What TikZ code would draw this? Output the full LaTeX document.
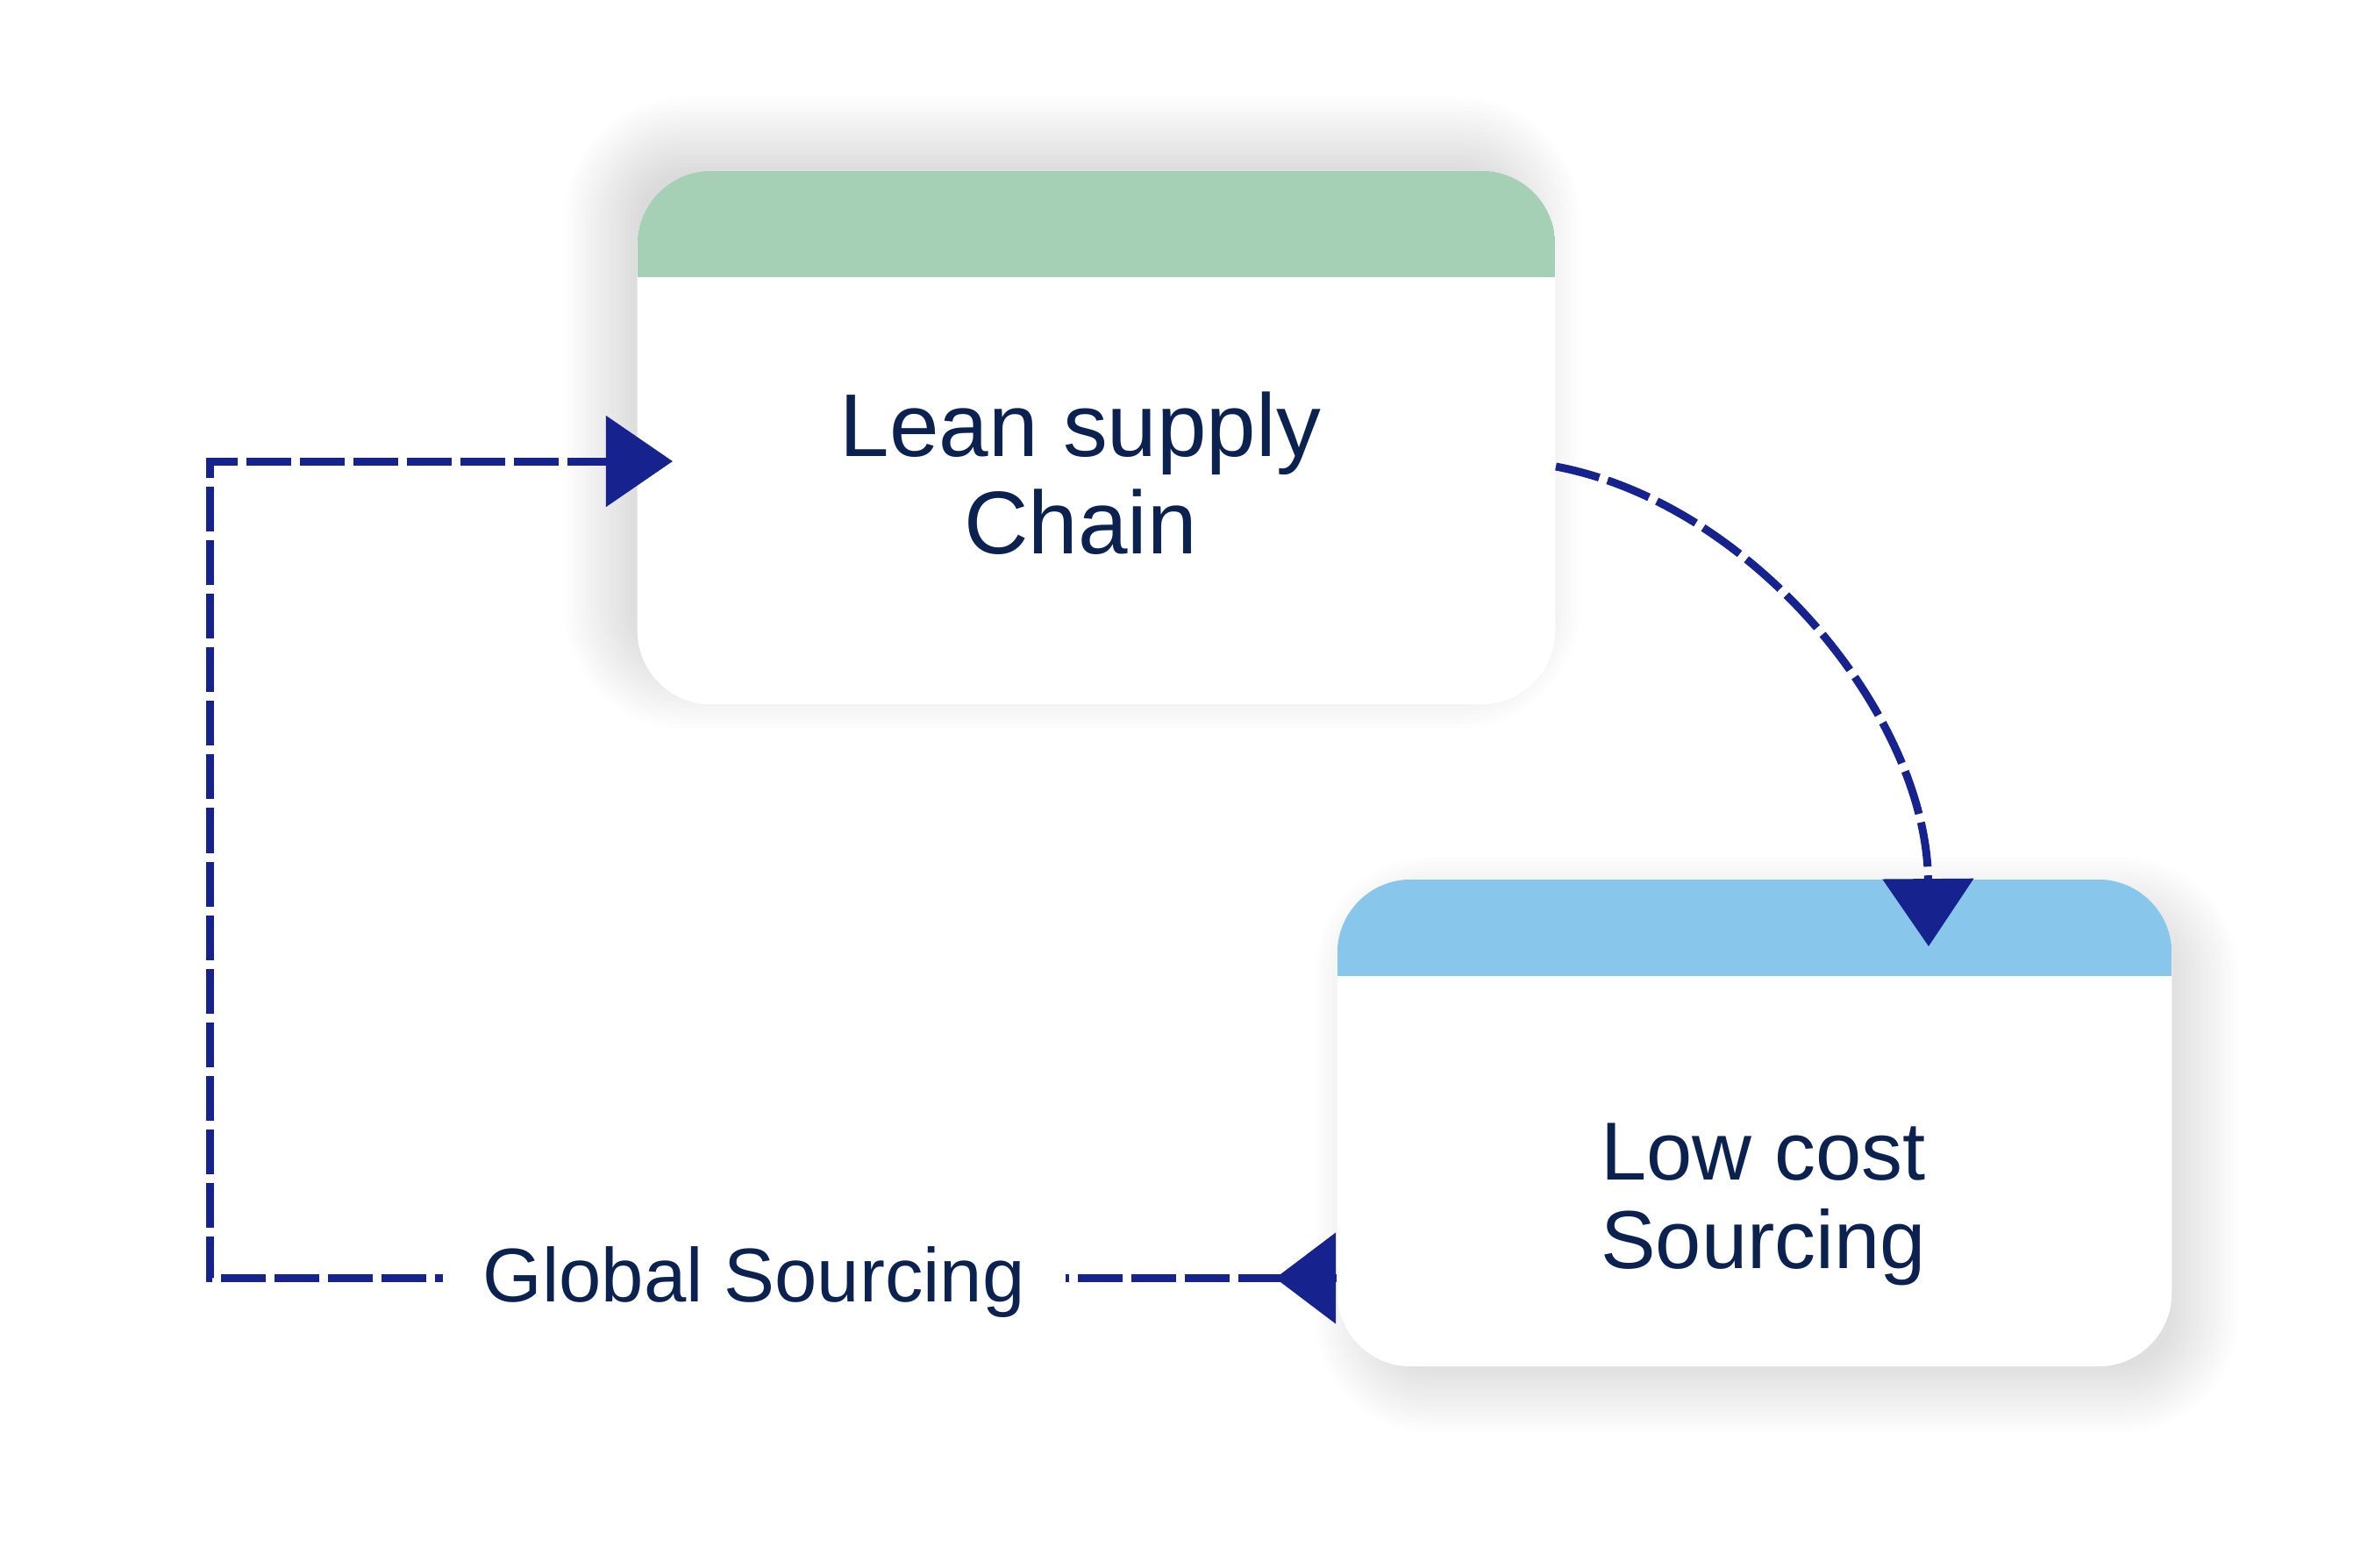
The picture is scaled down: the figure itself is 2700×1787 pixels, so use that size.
\documentclass[tikz,border=0pt]{standalone}
\usepackage{fontspec}
\setmainfont{Liberation Sans}
\usetikzlibrary{arrows.meta,calc,backgrounds}
\definecolor{flowblue}{HTML}{16238F}
\definecolor{textnavy}{HTML}{0B2150}
\definecolor{headgreen}{HTML}{A6D0B6}
\definecolor{headblue}{HTML}{89C6EC}

\tikzset{
  card/.style={rectangle, rounded corners=0.84cm, fill=white, inner sep=0pt},
  greenhead/.style={path picture={\fill[headgreen, sharp corners] (path picture bounding box.north west) rectangle ([yshift=-1.21cm]path picture bounding box.north east);}},
  bluehead/.style={path picture={\fill[headblue, sharp corners] (path picture bounding box.north west) rectangle ([yshift=-1.105cm]path picture bounding box.north east);}},
  cardtext/.style={text=textnavy, align=center, inner sep=0pt},
  flow/.style={flowblue, line width=0.09cm, dash pattern=on 0.51cm off 0.1cm},
  gslabel/.style={fill=white, text=textnavy, inner xsep=0.46cm, inner ysep=0.1cm, yshift=-0.05cm, font=\fontsize{24.7}{27}\selectfont},
  softshadow/.style={black, opacity=0.0075}
}

\begin{document}
\begin{tikzpicture}[x=0.01cm, y=-0.01cm]
  \useasboundingbox (0,0) rectangle (2700,1787);

  % Cards
  \node[card, minimum width=10.46cm, minimum height=6.08cm, greenhead] (lean) at (1250,499) {};
  \node[card, minimum width=9.51cm, minimum height=5.55cm, bluehead] (lowcost) at (2000.5,1280.5) {};

  % Card texts
  \node[cardtext, font=\fontsize{28.9}{31.5}\selectfont] (leantext) at ($(lean.center)+(-18,41)$) {Lean supply\\Chain};
  \node[cardtext, font=\fontsize{26.7}{28.7}\selectfont] (lowtext) at ($(lowcost.center)+(10,92.5)$) {Low cost\\Sourcing};

  % Background and shadows
  \begin{scope}[on background layer]
    \fill[white] (0,0) rectangle (2700,1787);
    \foreach \g [evaluate=\g as \r using (84+\g)*0.01] in {-30,-25,...,55}
      \fill[softshadow, rounded corners=\r cm] ($(lean.north west)+(-28-\g,-28-\g)$) rectangle ($(lean.south east)+(-28+\g,-28+\g)$);
    \foreach \g [evaluate=\g as \r using (84+\g)*0.01] in {-25,-20,...,50}
      \fill[softshadow, rounded corners=\r cm] ($(lowcost.north west)+(25-\g,25-\g)$) rectangle ($(lowcost.south east)+(25+\g,25+\g)$);
  \end{scope}

  % Connector points
  \coordinate (leanout) at ($(lean.east)+(0,33)$);
  \coordinate (lowin) at ($(lowcost.north)+(198.5,77)$);
  \coordinate (lowout) at ($(lowcost.west)+(0,177)$);
  \coordinate (loopcorner) at (239,1457.5);
  \coordinate (leanin) at ($(lean.west)+(41,27)$);

  % Connectors
  \draw[flow, -{Triangle[length=0.77cm, width=1.02cm]}] (leanout) .. controls +(227,43) and +(-2,-260) .. (lowin);
  \draw[flow, -{Triangle[length=0.76cm, width=1.02cm]}] (lowout) -- node[gslabel, pos=0.517] {Global Sourcing} (loopcorner) |- (leanin);
  \draw[flowblue, line width=0.09cm, -{Triangle[length=0.69cm, width=1.02cm]}] (lowout) -- ++(-70,0);
\end{tikzpicture}
\end{document}
